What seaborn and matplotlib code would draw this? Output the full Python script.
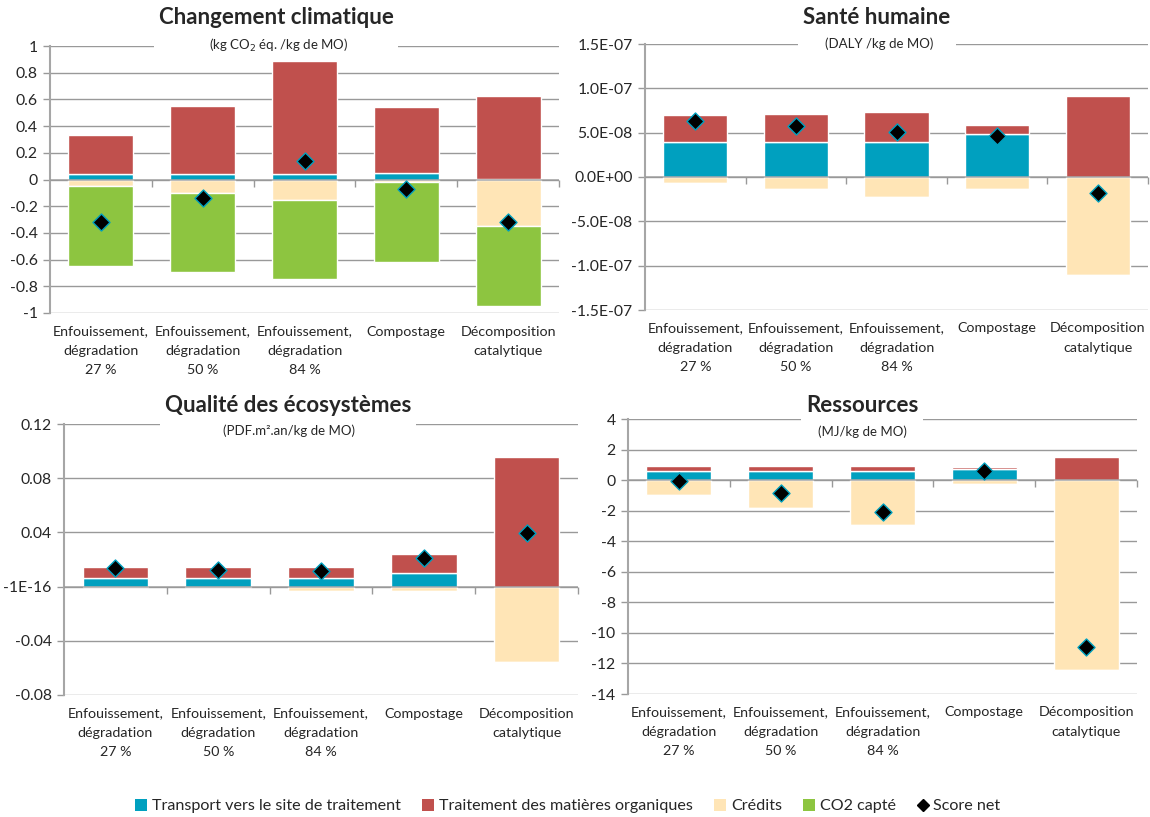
import numpy as np
import matplotlib
matplotlib.use("Agg")
import matplotlib.pyplot as plt
from matplotlib.patches import Patch, Rectangle
from matplotlib.lines import Line2D
import seaborn as sns

# --- data ---
categories = ["Enfouissement,\ndégradation\n27 %", "Enfouissement,\ndégradation\n50 %",
              "Enfouissement,\ndégradation\n84 %", "Compostage", "Décomposition\ncatalytique"]

# Changement climatique (kg CO2 éq. / kg de MO)
cc_transport = [0.04, 0.04, 0.04, 0.05, 0.005]
cc_traitement = [0.29, 0.51, 0.85, 0.49, 0.62]
cc_credits = [-0.05, -0.10, -0.155, -0.02, -0.35]
cc_co2 = [-0.60, -0.59, -0.59, -0.595, -0.595]
cc_net = [-0.32, -0.135, 0.14, -0.07, -0.32]
cc_ticks = [-1, -0.8, -0.6, -0.4, -0.2, 0, 0.2, 0.4, 0.6, 0.8, 1]
cc_labels = ["-1", "-0.8", "-0.6", "-0.4", "-0.2", "0", "0.2", "0.4", "0.6", "0.8", "1"]

# Santé humaine (DALY / kg de MO)
sh_transport = [3.9e-8, 3.9e-8, 3.9e-8, 4.8e-8, 0.0]
sh_traitement = [3.1e-8, 3.2e-8, 3.45e-8, 1.1e-8, 9.15e-8]
sh_credits = [-0.7e-8, -1.4e-8, -2.3e-8, -1.4e-8, -11.05e-8]
sh_co2 = [0.0, 0.0, 0.0, 0.0, 0.0]
sh_net = [6.3e-8, 5.8e-8, 5.1e-8, 4.6e-8, -1.85e-8]
sh_ticks = [-1.5e-7, -1.0e-7, -5.0e-8, 0.0, 5.0e-8, 1.0e-7, 1.5e-7]
sh_labels = ["-1.5E-07", "-1.0E-07", "-5.0E-08", "0.0E+00", "5.0E-08", "1.0E-07", "1.5E-07"]

# Qualité des écosystèmes (PDF.m².an / kg de MO)
eq_transport = [0.006, 0.006, 0.006, 0.010, 0.0]
eq_traitement = [0.0082, 0.0082, 0.0082, 0.014, 0.096]
eq_credits = [-0.0005, -0.0005, -0.003, -0.0035, -0.0555]
eq_co2 = [0.0, 0.0, 0.0, 0.0, 0.0]
eq_net = [0.0135, 0.0125, 0.0115, 0.021, 0.0395]
eq_ticks = [-0.08, -0.04, 0.0, 0.04, 0.08, 0.12]
eq_labels = ["-0.08", "-0.04", "-1E-16", "0.04", "0.08", "0.12"]

# Ressources (MJ / kg de MO)
rs_transport = [0.6, 0.6, 0.6, 0.74, 0.0]
rs_traitement = [0.33, 0.33, 0.33, 0.15, 1.51]
rs_credits = [-0.95, -1.8, -2.95, -0.25, -12.45]
rs_co2 = [0.0, 0.0, 0.0, 0.0, 0.0]
rs_net = [-0.03, -0.86, -2.08, 0.58, -10.95]
rs_ticks = [-14, -12, -10, -8, -6, -4, -2, 0, 2, 4]
rs_labels = ["-14", "-12", "-10", "-8", "-6", "-4", "-2", "0", "2", "4"]

legend_labels = ["Transport vers le site de traitement", "Traitement des matières organiques",
                 "Crédits", "CO2 capté", "Score net"]

# colours
C_TRANSPORT = "#00A0BF"
C_TRAIT = "#C0504D"
C_CREDITS = "#FFE5B6"
C_CO2 = "#8DC540"
C_GRID = "#999999"

sns.set_theme(style="white")
plt.rcParams["font.family"] = ["Lato", "DejaVu Sans"]

W, H = 1150, 817
fig = plt.figure(figsize=(W / 100, H / 100), dpi=100)


def px_axes(x0, y0, x1, y1):
    # figure pixel box (top-left origin) -> axes
    return fig.add_axes([x0 / W, 1 - y1 / H, (x1 - x0) / W, (y1 - y0) / H])


def panel(ax, transport, traitement, credits, co2, net, ticks, labels):
    x = np.arange(len(categories))
    w = 0.64
    ax.bar(x, transport, width=w, color=C_TRANSPORT, zorder=2)
    ax.bar(x, traitement, bottom=transport, width=w, color=C_TRAIT, zorder=2)
    ax.bar(x, credits, width=w, color=C_CREDITS, zorder=2)
    ax.bar(x, co2, bottom=credits, width=w, color=C_CO2, zorder=2)
    sns.scatterplot(x=x, y=net, marker="D", s=75, color="black",
                    edgecolor=C_TRANSPORT, linewidth=1, ax=ax, zorder=4)
    ax.set_xlim(-0.5, len(categories) - 0.5)
    ax.set_ylim(ticks[0], ticks[-1])
    ax.set_yticks(ticks)
    ax.set_yticklabels(labels, fontsize=11.3)
    ax.set_xticks(x)
    ax.set_xticklabels(categories, fontsize=10.3)
    for lbl in ax.get_xticklabels():
        lbl.set_linespacing(1.72)
    ax.tick_params(axis="x", length=0, pad=9)
    ax.tick_params(axis="y", length=5, width=1, color=C_GRID, direction="out", pad=4, left=True)
    ax.grid(axis="y", color=C_GRID, linewidth=1)
    ax.grid(axis="x", visible=False)
    ax.set_axisbelow(True)
    for s in ["top", "right", "bottom"]:
        ax.spines[s].set_visible(False)
    ax.spines["left"].set_color("#A6A6A6")
    ax.spines["left"].set_linewidth(1.5)
    ax.axhline(0, color=C_GRID, linewidth=1.2, alpha=0.8, zorder=3)
    # category boundary tick marks on the zero line
    bounds = np.arange(0.5, len(categories), 1.0)
    ax.plot(bounds, np.zeros_like(bounds), ls="none", marker=3, ms=5,
            mew=1, color=C_GRID, clip_on=False, zorder=3)
    ax.set_xlabel("")
    ax.set_ylabel("")


ax1 = px_axes(50, 46, 559, 313)
ax2 = px_axes(645, 44, 1148, 310)
ax3 = px_axes(64, 424, 578, 695)
ax4 = px_axes(628, 419, 1137, 694)

panel(ax1, cc_transport, cc_traitement, cc_credits, cc_co2, cc_net, cc_ticks, cc_labels)
panel(ax2, sh_transport, sh_traitement, sh_credits, sh_co2, sh_net, sh_ticks, sh_labels)
panel(ax3, eq_transport, eq_traitement, eq_credits, eq_co2, eq_net, eq_ticks, eq_labels)
panel(ax4, rs_transport, rs_traitement, rs_credits, rs_co2, rs_net, rs_ticks, rs_labels)

titles = [
    ("Changement climatique", "(kg CO$_2$ éq. /kg de MO)", 276, 18, 279, 45),
    ("Santé humaine", "(DALY /kg de MO)", 877, 18, 879, 44),
    ("Qualité des écosystèmes", "(PDF.m².an/kg de MO)", 288, 405, 289, 431),
    ("Ressources", "(MJ/kg de MO)", 862, 405, 862, 432),
]
pairs = []
for t, sub, tx, ty, sx, sy in titles:
    tt = fig.text(tx / W, 1 - ty / H, t, ha="center", va="center",
                  fontsize=16, fontweight="bold", zorder=5)
    st = fig.text(sx / W, 1 - sy / H, sub, ha="center", va="center",
                  fontsize=9.5, zorder=5)
    pairs.append((tt, st))

# white box behind each title block, hiding the top gridline like the original
fig.canvas.draw()
r = fig.canvas.get_renderer()
inv = fig.transFigure.inverted()
for tt, st in pairs:
    bt = tt.get_window_extent(r)
    bs = st.get_window_extent(r)
    x0, y0 = inv.transform((bt.x0 - 5, bs.y0 - 2))
    x1, y1 = inv.transform((bt.x1 + 5, bt.y1 + 2))
    fig.add_artist(Rectangle((x0, y0), x1 - x0, y1 - y0, transform=fig.transFigure,
                             facecolor="white", edgecolor="none", zorder=2))

handles = [
    Patch(facecolor=C_TRANSPORT, edgecolor="none"),
    Patch(facecolor=C_TRAIT, edgecolor="none"),
    Patch(facecolor=C_CREDITS, edgecolor="none"),
    Patch(facecolor=C_CO2, edgecolor="none"),
    Line2D([], [], ls="none", marker="D", color="black", markersize=6),
]
fig.legend(handles, legend_labels, loc="center", bbox_to_anchor=(568 / W, 1 - 806 / H),
           ncol=5, frameon=False, fontsize=11.6, handlelength=0.75, handleheight=0.75,
           handletextpad=0.3, columnspacing=1.3, borderaxespad=0)

fig.savefig("out.png", dpi=100)
